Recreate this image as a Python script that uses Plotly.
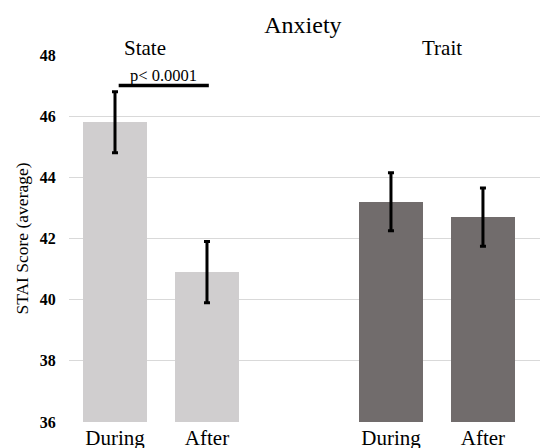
import plotly.graph_objects as go

groups = ["State", "Trait"]
conditions = ["During", "After"]
state_means = [45.8, 40.9]
state_err = [1.0, 1.0]
trait_means = [43.2, 42.7]
trait_err = [0.95, 0.95]
y_ticks = [36, 38, 40, 42, 44, 46, 48]
sig_label = "p< 0.0001"
sig_level = 47.0

colors = {"State": "#d0cecf", "Trait": "#716c6c"}
series = {"State": (state_means, state_err), "Trait": (trait_means, trait_err)}
label_shift = {"State": -16, "Trait": 5}

FONT = "Liberation Serif, Times New Roman, serif"
fig = go.Figure()
tickvals, ticktext = [], []
for g, grp in enumerate(groups):
    means, errs = series[grp]
    xs = [g * 3 + c for c in range(len(conditions))]
    tickvals += xs
    ticktext += conditions
    fig.add_trace(go.Bar(
        x=xs, y=[m - y_ticks[0] for m in means], base=y_ticks[0],
        width=0.7, marker=dict(color=colors[grp], line=dict(width=0)),
        showlegend=False, hoverinfo="skip",
    ))
    fig.add_trace(go.Scatter(
        x=xs, y=means, mode="markers", marker=dict(size=0.1, color="rgba(0,0,0,0)"),
        error_y=dict(type="data", array=errs, color="black", thickness=3, width=3),
        showlegend=False, hoverinfo="skip",
    ))
    fig.add_annotation(x=(xs[0] + xs[-1]) / 2, y=48, yref="y", text=grp, showarrow=False,
                       font=dict(family=FONT, size=21, color="black"), yanchor="middle", yshift=7,
                       xshift=label_shift[grp])

# significance bar between State During and After
fig.add_trace(go.Scatter(x=[0.04, 1.02], y=[sig_level, sig_level], mode="lines",
                         line=dict(color="black", width=3.5), showlegend=False, hoverinfo="skip"))
fig.add_annotation(x=0.53, y=sig_level, text=sig_label, showarrow=False, yanchor="middle",
                   font=dict(family=FONT, size=16.5, color="black"), yshift=10)

fig.update_layout(
    width=540, height=448,
    margin=dict(l=69, r=0, t=54, b=25),
    paper_bgcolor="white", plot_bgcolor="white",
    title=dict(text="Anxiety", x=0.561, xanchor="center", y=0.946, yanchor="middle",
               font=dict(family=FONT, size=24, color="black")),
    bargap=0,
)
fig.update_xaxes(range=[-0.5, 4.62], tickvals=tickvals, ticktext=ticktext,
                 tickfont=dict(family=FONT, size=21, color="black"),
                 showgrid=False, zeroline=False, showline=False, ticks="", automargin=False)
fig.update_yaxes(range=[35.97, 48.03], tickvals=y_ticks, ticktext=[f"<b>{v}</b>" for v in y_ticks],
                 tickfont=dict(family=FONT, size=16, color="black"),
                 showgrid=True, gridcolor="#d9d9d9", gridwidth=1, zeroline=False,
                 ticks="outside", ticklen=9, tickcolor="rgba(0,0,0,0)", automargin=False,
                 title=dict(text="STAI Score (average)", font=dict(family=FONT, size=17.5, color="black"),
                            standoff=6))
fig.write_html("out.html", config={"displayModeBar": False},
               post_script="document.body.style.margin='0';document.body.style.overflow='hidden';")
